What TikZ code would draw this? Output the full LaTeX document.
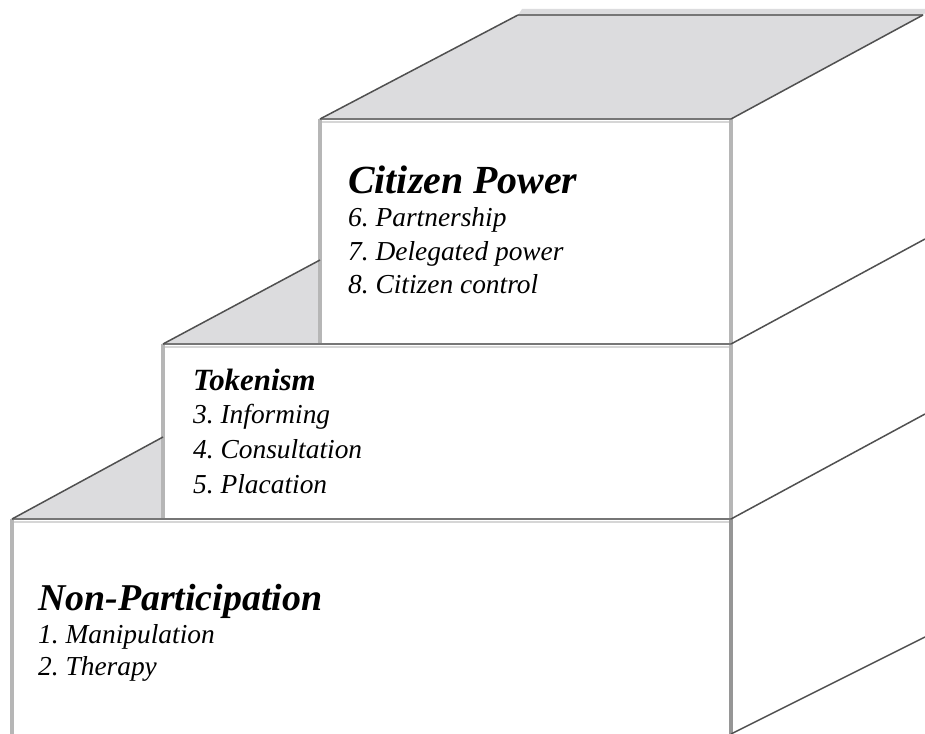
\documentclass[tikz,border=0pt]{standalone}
\usepackage{fontspec}
\setmainfont{Liberation Serif}
\usetikzlibrary{positioning}
\frenchspacing
\definecolor{topgray}{RGB}{220,220,222}
\definecolor{hgray}{RGB}{118,118,118}
\definecolor{hband}{RGB}{214,214,214}
\definecolor{vgray}{RGB}{182,182,182}
\definecolor{vdark}{RGB}{150,150,150}
\definecolor{dgray}{RGB}{80,80,80}
\tikzset{
  topface/.style={fill=topgray, draw=none},
  hedge/.style={hgray, line width=2.6bp},
  hlight/.style={hband, line width=2.6bp},
  vedge/.style={vgray, line width=3.6bp},
  dedge/.style={dgray, line width=1.5bp},
  title/.style={anchor=base west, inner sep=0pt, font=\fontsize{#1}{#1}\selectfont\bfseries\itshape},
  item/.style={anchor=base west, inner sep=0pt, font=\fontsize{27.5}{32}\selectfont\itshape}
}
\begin{document}
\begin{tikzpicture}[x=1bp,y=-1bp]
      \useasboundingbox[fill=white] (0,0) rectangle (925,734);
      % corners of the three steps
      \coordinate (c1) at (320,119);
      \coordinate (c2) at (731,119);
      \coordinate (c3) at (518,15);
      \coordinate (c4) at (923,15);
      \coordinate (t1) at (163,344);
      \coordinate (t2) at (731,344);
      \coordinate (t3) at (320,260);
      \coordinate (n1) at (12,519);
      \coordinate (n2) at (731,519);
      \coordinate (n3) at (163,437);
      \coordinate (n4) at (731,734);
      % top faces
      \fill[topface] (c1)--(c2)--(c4)--(925,13)--(925,9)--(522,9)--(c3)--cycle;
      \fill[topface] (t1)--(t3)--(320,344)--cycle;
      \fill[topface] (n1)--(n3)--(163,519)--cycle;
      % light bands under the top edges
      \draw[hlight] (322,122)--(731,122);
      \draw[hlight] (165,347)--(731,347);
      \draw[hlight] (14,522)--(731,522);
      % vertical edges
      \draw[vedge] (c1)--(320,344);
      \draw[vedge] (t1)--(163,519);
      \draw[vedge] (n1)--(12,734);
      \draw[vedge] (c2)--(n2);
      \draw[vedge, vdark] (n2)--(n4);
      % horizontal edges
      \draw[hedge] (c1)--(c2);
      \draw[hedge] (t1)--(t2);
      \draw[hedge] (n1)--(n2);
      \draw[hedge] (c3)--(c4);
      % depth edges
      \draw[dedge] (c1)--(c3);
      \draw[dedge] (c2)--(c4);
      \draw[dedge] (t1)--(t3);
      \draw[dedge] (t2)--(925,239);
      \draw[dedge] (n1)--(n3);
      \draw[dedge] (n2)--(925,414);
      \draw[dedge] (n4)--(925,637);
      % labels
      \node[title=40] (cp) at (348,193) {Citizen Power};
      \node[item] (cp6) at (348,226) {6. Partnership};
      \node[item] (cp7) at (348,260) {7. Delegated power};
      \node[item] (cp8) at (348,293) {8. Citizen control};
      \node[title=31] (tk) at (193,390) {Tokenism};
      \node[item] (tk3) at (193,423) {3. Informing};
      \node[item] (tk4) at (193,458) {4. Consultation};
      \node[item] (tk5) at (193,493) {5. Placation};
      \node[title=38] (np) at (38,610) {Non-Participation};
      \node[item] (np1) at (38,643) {1. Manipulation};
      \node[item] (np2) at (38,675) {2. Therapy};
\end{tikzpicture}
\end{document}
